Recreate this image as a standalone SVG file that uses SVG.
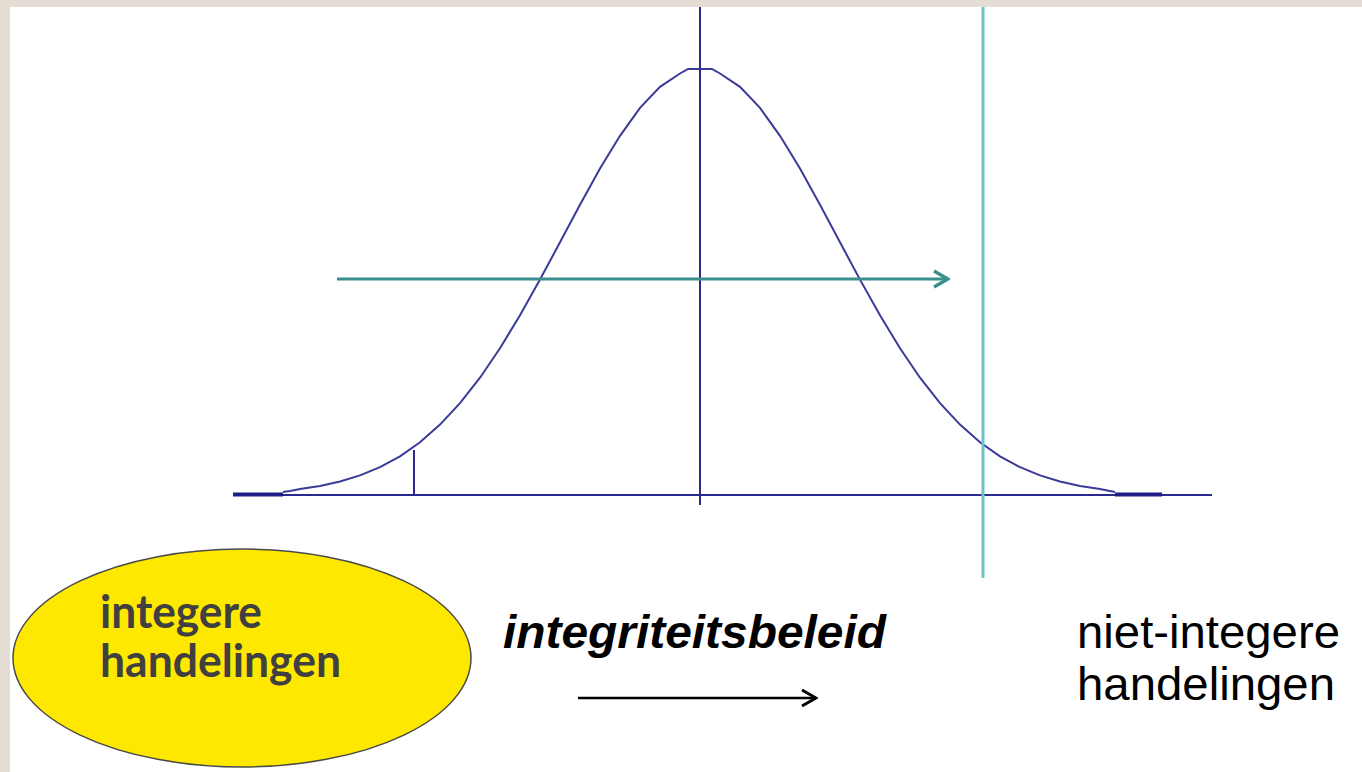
<svg xmlns="http://www.w3.org/2000/svg" width="1362" height="772" viewBox="0 0 1362 772">
<style>
.ax{stroke:#2A2A8E;stroke-width:2;fill:none}
.curve{stroke:#3A3A9A;stroke-width:2;fill:none}
.sans{font-family:'Liberation Sans', Arial, sans-serif;font-size:46px;fill:#000}
.ell{font-family:Lato, 'Open Sans', sans-serif;font-size:45px;font-weight:bold;fill:#404040}
</style>
<defs>
<marker id="ah2" viewBox="0 0 20 20" refX="18" refY="10" markerWidth="20" markerHeight="20" markerUnits="userSpaceOnUse" orient="auto"><path d="M4,2 L18,10 L4,18" fill="none" stroke="#3A8E8E" stroke-width="3.5"/></marker>
<marker id="ah3" viewBox="0 0 20 20" refX="18" refY="10" markerWidth="20" markerHeight="20" markerUnits="userSpaceOnUse" orient="auto"><path d="M4,2 L18,10 L4,18" fill="none" stroke="#000" stroke-width="3"/></marker>
</defs>
<rect x="0" y="0" width="1362" height="772" fill="#E3DDD3"/>
<rect x="10" y="7" width="1352" height="765" fill="#FFFFFF"/>
<g id="chart">
<line class="ax" x1="233" y1="495" x2="1212" y2="495"/>
<line x1="233" y1="494.5" x2="283" y2="494.5" stroke="#1E1E86" stroke-width="4"/>
<line x1="1115" y1="494.5" x2="1162" y2="494.5" stroke="#1E1E86" stroke-width="4"/>
<polyline class="curve" points="283,492 290,491 300,489 320,485.9 340,481.5 360,475.4 380,467.2 400,456.3 420,442.2 440,424.6 460,403.2 480,377.7 500,348.2 520,315.3 540,279.6 560,242.3 580,204.7 600,168.6 620,135.8 640,107.9 660,86.8 680,73.5 688,69 712,69 720,73.5 740,86.8 760,107.9 780,135.8 800,168.6 820,204.7 840,242.3 860,279.6 880,315.3 900,348.2 920,377.7 940,403.2 960,424.6 980,442.2 1000,456.3 1020,467.2 1040,475.4 1060,481.5 1080,485.9 1100,489 1110,491 1115,492"/>
<line class="ax" x1="700" y1="7" x2="700" y2="505"/>
<line class="ax" x1="414" y1="450" x2="414" y2="495"/>
<line x1="983" y1="7" x2="983" y2="578" stroke="#6CC3C8" stroke-width="3"/>
</g>
<g id="connectors">
<line x1="337" y1="279" x2="948" y2="279" stroke="#3A8E8E" stroke-width="3" marker-end="url(#ah2)"/>
<line x1="578" y1="698" x2="816" y2="698" stroke="#000" stroke-width="2.5" marker-end="url(#ah3)"/>
</g>
<g id="node-integere">
<ellipse cx="242" cy="658" rx="229" ry="109" fill="#FFE800" stroke="#4A4A4A" stroke-width="1.5"/>
<text x="100" y="628" class="ell" textLength="162" lengthAdjust="spacingAndGlyphs">integere</text>
<text x="100" y="677" class="ell" textLength="241" lengthAdjust="spacingAndGlyphs">handelingen</text>
</g>
<g id="label-beleid">
<text x="503" y="648" class="sans" font-weight="bold" font-style="italic" textLength="383" lengthAdjust="spacingAndGlyphs">integriteitsbeleid</text>
</g>
<g id="node-niet-integere">
<text x="1077" y="648" class="sans" textLength="263" lengthAdjust="spacingAndGlyphs">niet-integere</text>
<text x="1077" y="700" class="sans" textLength="258" lengthAdjust="spacingAndGlyphs">handelingen</text>
</g>
</svg>
